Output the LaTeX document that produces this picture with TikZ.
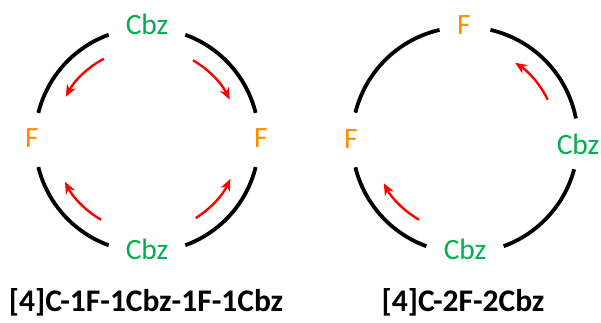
\documentclass[tikz,border=0pt]{standalone}
\usepackage{fontspec}
\setmainfont{Carlito}
\usetikzlibrary{arrows.meta}
\definecolor{cbzgreen}{RGB}{0,176,80}
\definecolor{forange}{RGB}{255,140,0}

\begin{document}
\begin{tikzpicture}[x=1pt, y=1pt,
    ring/.style={line width=3.8pt},
    flow/.style={red, line width=2.4pt, -{Stealth[length=12pt, width=10pt]}},
    cbz/.style={text=cbzgreen, anchor=base, inner sep=0pt, font=\fontsize{29.5}{34}\selectfont},
    fl/.style={text=forange, anchor=base, inner sep=0pt, font=\fontsize{29.5}{34}\selectfont},
    ringlabel/.style={anchor=base, inner sep=0pt, font=\bfseries\fontsize{31.5}{36}\selectfont}]
\useasboundingbox (0,0) rectangle (601,323);
% left ring
\draw[ring] (147,183) ++(110:112) arc[start angle=110, end angle=166, radius=112];
\draw[ring] (147,183) ++(194:112) arc[start angle=194, end angle=250, radius=112];
\draw[ring] (147,183) ++(290:112) arc[start angle=290, end angle=346, radius=112];
\draw[ring] (147,183) ++(14:112) arc[start angle=14, end angle=70, radius=112];
\draw[flow] (147,183) ++(118:92) arc[start angle=118, end angle=152, radius=92];
\draw[flow] (147,183) ++(60:92) arc[start angle=60, end angle=26, radius=92];
\draw[flow] (147,183) ++(-120:92) arc[start angle=-120, end angle=-153, radius=92];
\draw[flow] (147,183) ++(-58:92) arc[start angle=-58, end angle=-25, radius=92];
\node[cbz] (cbzTopA) at (147,288) {Cbz};
\node[cbz] (cbzBotA) at (147,63) {Cbz};
\node[fl] (fLeftA) at (32,175) {F};
\node[fl] (fRightA) at (261,175) {F};
\node[ringlabel] (labelA) at (146,11) {[4]C-1F-1Cbz-1F-1Cbz};
% right ring
\draw[ring] (465,183) ++(103:113) arc[start angle=103, end angle=166, radius=113];
\draw[ring] (465,183) ++(194:113) arc[start angle=194, end angle=250, radius=113];
\draw[ring] (465,183) ++(290:113) arc[start angle=290, end angle=345, radius=113];
\draw[ring] (465,183) ++(11:113) arc[start angle=11, end angle=77, radius=113];
\draw[flow] (465,183) ++(26:92) arc[start angle=26, end angle=57, radius=92];
\draw[flow] (465,183) ++(-120:92) arc[start angle=-120, end angle=-152, radius=92];
\node[fl] (fTopB) at (464,288) {F};
\node[fl] (fLeftB) at (351,174) {F};
\node[cbz] (cbzRightB) at (578,168) {Cbz};
\node[cbz] (cbzBotB) at (465,63) {Cbz};
\node[ringlabel] (labelB) at (463,11) {[4]C-2F-2Cbz};
\end{tikzpicture}
\end{document}
